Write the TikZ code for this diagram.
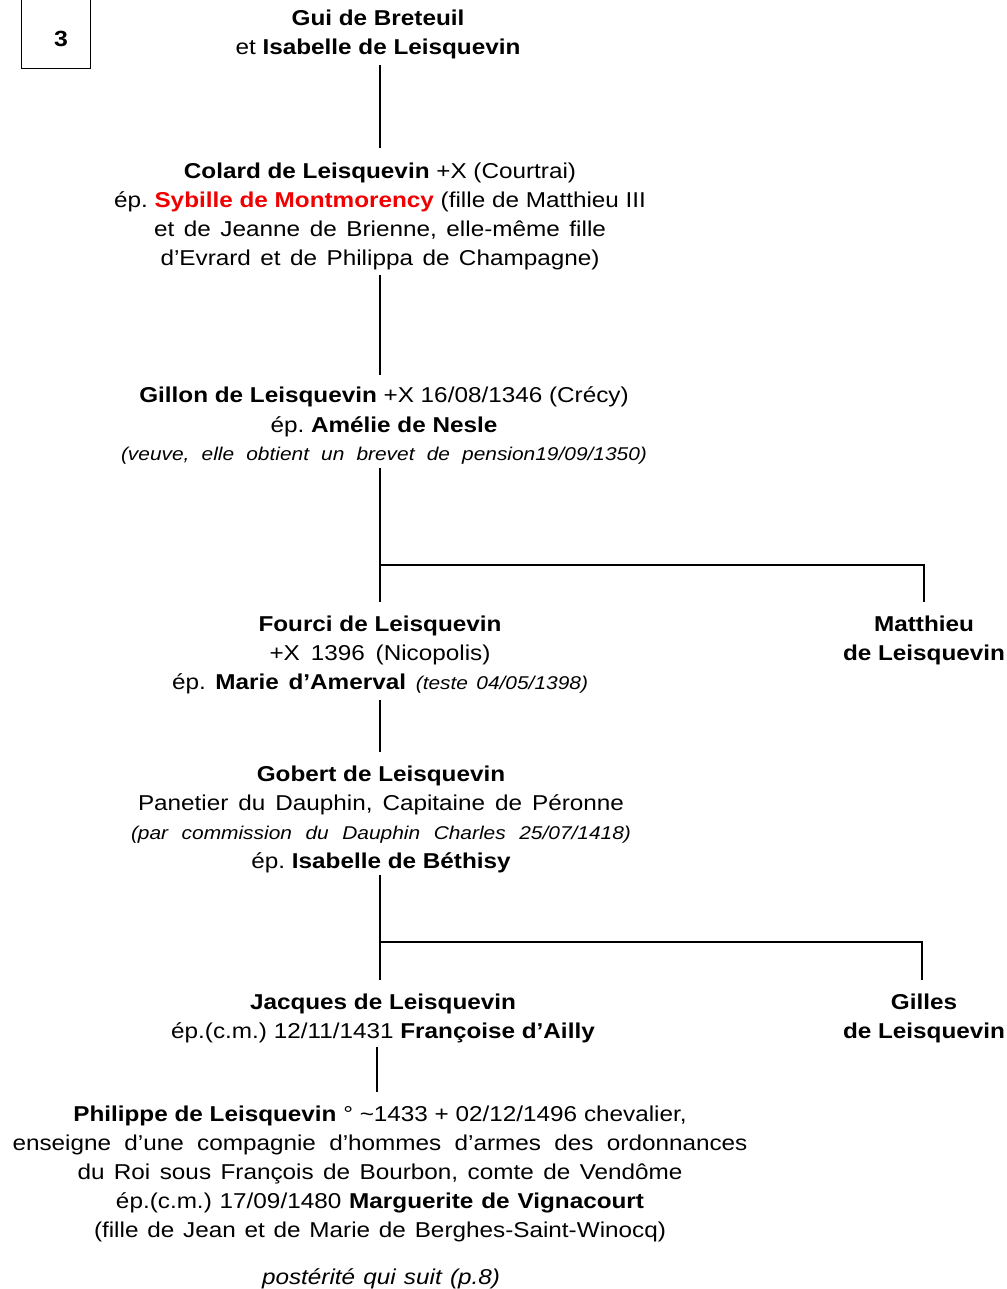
\documentclass[tikz,border=0pt]{standalone}
\usepackage{fontspec}
\setmainfont[FakeStretch=1.13]{Liberation Sans}
\newcommand{\lw}[2]{\setbox0\hbox{#2}\ifdim\wd0<#1pt\makebox[#1pt][s]{#2}\else\box0\fi}
\newcommand{\itl}{\fontsize{18.5}{24}\selectfont\itshape}
\definecolor{myred}{RGB}{240,0,0}
\frenchspacing
\begin{document}
\begin{tikzpicture}[x=1pt,y=-1pt,
  person/.style={inner sep=0pt, align=center, font=\fontsize{21.5}{29}\selectfont},
  link/.style={line width=1.6pt},
  numbox/.style={draw, line width=0.8pt, minimum width=69pt, minimum height=70pt, inner sep=0pt}]
\useasboundingbox (0,0) rectangle (1006,1289);
\node[numbox] (num) at (55.5,33) {};
\node[inner sep=0pt, font=\bfseries\fontsize{22}{26}\selectfont] (numtxt) at (61,39) {3};

\node[person] (gui) at (378,34.5) {\lw{165}{\textbf{Gui de Breteuil}}\\ \lw{280}{et \textbf{Isabelle de Leisquevin}}};

\node[person] (colard) at (380,216) {\lw{386}{\textbf{Colard de Leisquevin} +X (Courtrai)}\\
\lw{526}{ép. \textcolor{myred}{\textbf{Sybille de Montmorency}} (fille de Matthieu III}\\
\lw{452}{et de Jeanne de Brienne, elle-même fille}\\
\lw{439}{d’Evrard et de Philippa de Champagne)}};

\node[person] (gillon) at (384,426) {\lw{480}{\textbf{Gillon de Leisquevin} +X 16/08/1346 (Crécy)}\\
\lw{223}{ép. \textbf{Amélie de Nesle}}\\
{\itl \lw{526}{(veuve, elle obtient un brevet de pension19/09/1350)}}};

\node[person] (fourci) at (380,655) {\lw{236}{\textbf{Fourci de Leisquevin}}\\
\lw{221}{+X 1396 (Nicopolis)}\\
\lw{416}{ép. \textbf{Marie d’Amerval} {\itl (teste 04/05/1398)}}};

\node[person] (matthieu) at (924,640.5) {\textbf{Matthieu}\\ \lw{157}{\textbf{de Leisquevin}}};

\node[person] (gobert) at (381,819.5) {\lw{241}{\textbf{Gobert de Leisquevin}}\\
\lw{486}{Panetier du Dauphin, Capitaine de Péronne}\\
{\itl \lw{500}{(par commission du Dauphin Charles 25/07/1418)}}\\
\lw{256}{ép. \textbf{Isabelle de Béthisy}}};

\node[person] (jacques) at (383,1018.5) {\lw{264}{\textbf{Jacques de Leisquevin}}\\
\lw{423}{ép.(c.m.) 12/11/1431 \textbf{Françoise d’Ailly}}};

\node[person] (gilles) at (924,1018.5) {\textbf{Gilles}\\ \lw{157}{\textbf{de Leisquevin}}};

\node[person] (philippe) at (380,1173.5) {\lw{611}{\textbf{Philippe de Leisquevin} ° \textasciitilde 1433 + 02/12/1496 chevalier,}\\
\lw{735}{enseigne d’une compagnie d’hommes d’armes des ordonnances}\\
\lw{605}{du Roi sous François de Bourbon, comte de Vendôme}\\
\lw{528}{ép.(c.m.) 17/09/1480 \textbf{Marguerite de Vignacourt}}\\
\lw{572}{(fille de Jean et de Marie de Berghes-Saint-Winocq)}};

\node[person, font=\itshape\fontsize{21.5}{29}\selectfont] (post) at (381,1279) {\lw{238}{postérité qui suit (p.8)}};

\coordinate (b1) at (380,565);
\coordinate (b2) at (380,942);

\draw[link] (380,65) -- (380,148);
\draw[link] (380,275) -- (380,375);
\draw[link] (380,468) -- (380,602);
\draw[link] (b1) -| (924,602);
\draw[link] (380,700) -- (380,752);
\draw[link] (380,875) -- (380,980);
\draw[link] (b2) -| (922,980);
\draw[link] (377,1047) -- (377,1092);
\end{tikzpicture}
\end{document}
